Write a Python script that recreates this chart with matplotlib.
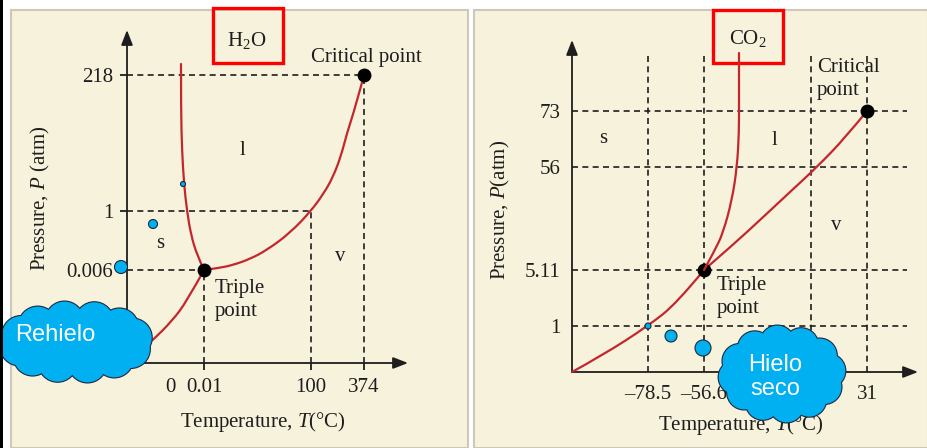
import numpy as np
import matplotlib
matplotlib.use("Agg")
import matplotlib.pyplot as plt
from matplotlib.patches import Rectangle, Circle, Ellipse, PathPatch
from matplotlib.path import Path

plt.rcParams['font.family'] = ['Liberation Serif', 'DejaVu Serif']
plt.rcParams['mathtext.fontset'] = 'custom'
plt.rcParams['mathtext.rm'] = 'Liberation Serif'
plt.rcParams['mathtext.it'] = 'Liberation Serif:italic'

# ---------------- data (schematic diagram units, origin at the axes corner) -------------
h2o_T_labels = ["0.01", "100", "374"]
h2o_T_pos = [77, 184, 237]
h2o_T_zero_label = "0"
h2o_T_zero_pos = 43
h2o_P_labels = ["0.006", "1", "218"]
h2o_P_pos = [93, 152, 288]

h2o_fusion_x = [77, 70, 64, 60, 57, 55, 54, 54]
h2o_fusion_y = [93, 108, 128, 152, 179, 213, 253, 299]
h2o_vap_x = [77, 92, 106, 123, 140, 163, 184, 197, 206, 214, 220, 229, 237]
h2o_vap_y = [93, 95, 98, 104, 113, 130, 152, 170, 186, 207, 230, 258, 288]
h2o_sub_x = [0, 25, 45, 60, 77]
h2o_sub_y = [0, 22, 42, 62, 93]
h2o_triple = (77, 93)
h2o_critical = (237, 288)
h2o_dots_x = [56, 26, -6]
h2o_dots_y = [179, 139, 96]
h2o_dots_r = [2.5, 4.5, 6.5]

co2_T_labels = ["\u201378.5", "\u201356.6", "31"]
co2_T_pos = [76, 132, 295]
co2_T_grid = [76, 132, 239, 295]
co2_P_labels = ["1", "5.11", "56", "73"]
co2_P_pos = [46, 102, 205, 261]

co2_fusion_x = [132, 143, 151, 160, 165, 167, 167, 167]
co2_fusion_y = [102, 122, 139, 172, 205, 239, 272, 319]
co2_vap_x = [132, 163, 188, 218, 245, 273, 295]
co2_vap_y = [102, 129, 152, 180, 205, 234, 261]
co2_sub_x = [0, 31, 76, 105, 132]
co2_sub_y = [0, 17, 46, 69, 102]
co2_triple = (132, 102)
co2_critical = (295, 261)
co2_dots_x = [76, 99, 131]
co2_dots_y = [46, 36, 24]
co2_dots_r = [3, 6, 8]

# ---------------- styles -------------
W, H = 928, 448
BEIGE = '#F7F2DC'
BORDER = '#CEC8BA'
INK = '#1E1E1E'
RED = '#C4262E'
BLUE = '#00B0F0'
FS = 15

fig = plt.figure(figsize=(W / 100, H / 100), dpi=100, facecolor='white')
fig.patches.append(Rectangle((0, 0), 3 / W, 1, transform=fig.transFigure,
                             facecolor='black', edgecolor='none'))


def panel_axes(x0, x1, y0, y1, ox, oy):
    ax = fig.add_axes([x0 / W, 1 - y1 / H, (x1 - x0) / W, (y1 - y0) / H])
    ax.set_xlim(x0 - ox, x1 - ox)
    ax.set_ylim(oy - y1, oy - y0)
    ax.set_facecolor(BEIGE)
    ax.add_patch(Rectangle((0, 0), 1, 1, transform=ax.transAxes, facecolor='none',
                           edgecolor=BORDER, lw=1.5, clip_on=False, zorder=0.5))
    for s in ['top', 'right']:
        ax.spines[s].set_visible(False)
    ax.spines['left'].set_position(('data', 0))
    ax.spines['bottom'].set_position(('data', 0))
    for s in ['left', 'bottom']:
        ax.spines[s].set_color(INK)
        ax.spines[s].set_linewidth(1.3)
    ax.xaxis.set_ticks_position('bottom')
    ax.yaxis.set_ticks_position('left')
    return ax


def arrows(ax, xtip, ytip):
    ax.spines['left'].set_bounds(0, ytip - 6)
    ax.spines['bottom'].set_bounds(0, xtip - 6)
    kw = dict(arrowstyle='-|>,head_length=0.9,head_width=0.35', color=INK, lw=1.3,
              shrinkA=0, shrinkB=0)
    ax.annotate('', xy=(0, ytip), xytext=(0, ytip - 12), arrowprops=kw)
    ax.annotate('', xy=(xtip, 0), xytext=(xtip - 12, 0), arrowprops=kw)


def dashed(ax, xs, ys):
    ax.plot(xs, ys, color=INK, lw=1.2, ls=(0, (3.6, 2.6)), zorder=2)


def smooth_curve(ax, xs, ys, zorder=3):
    """Quadratic B-spline through the given points used as control points (ends exact)."""
    pts = np.c_[xs, ys].astype(float)
    verts = [pts[0]]
    codes = [Path.MOVETO]
    n = len(pts)
    for i in range(1, n - 1):
        end = pts[n - 1] if i == n - 2 else (pts[i] + pts[i + 1]) / 2
        verts += [pts[i], end]
        codes += [Path.CURVE3, Path.CURVE3]
    if n == 2:
        verts.append(pts[1])
        codes.append(Path.LINETO)
    ax.add_patch(PathPatch(Path(verts, codes), facecolor='none', edgecolor=RED, lw=1.6,
                           zorder=zorder, capstyle='round'))


def cloud(ax, cx, cy, rx, ry, r, n, phase=0.0):
    ang = np.linspace(0, 2 * np.pi, n, endpoint=False) + phase
    centers = np.c_[cx + (rx - r * 0.85) * np.cos(ang), cy + (ry - r * 0.85) * np.sin(ang)]
    for z, ec, lw in [(10, '#202840', 1.6), (11, 'none', 0)]:
        for c in centers:
            ax.add_patch(Circle(c, r, facecolor=BLUE, edgecolor=ec, lw=lw,
                                zorder=z, clip_on=False))
        ax.add_patch(Ellipse((cx, cy), 2 * (rx - r * 0.7), 2 * (ry - r * 0.7),
                             facecolor=BLUE, edgecolor=ec, lw=lw, zorder=z, clip_on=False))


def blue_dots(ax, xs, ys, rs):
    for x, y, r in zip(xs, ys, rs):
        ax.add_patch(Circle((x, y), r, facecolor=BLUE, edgecolor='#1a2a3a', lw=0.8,
                            zorder=5, clip_on=False))


# ======================= H2O panel =======================
ax1 = panel_axes(11, 468, 10, 448, 127, 363)
arrows(ax1, 281, 333)
ax1.set_xticks(h2o_T_pos, labels=h2o_T_labels)
ax1.set_xticks([h2o_T_zero_pos], labels=[h2o_T_zero_label], minor=True)
ax1.set_yticks(h2o_P_pos, labels=h2o_P_labels)
ax1.tick_params(axis='both', which='major', direction='out', length=5, width=1.3,
                color=INK, labelsize=FS, labelcolor=INK)
ax1.tick_params(axis='x', which='major', pad=6)
ax1.tick_params(axis='y', which='major', pad=5)
ax1.tick_params(axis='x', which='minor', length=0, pad=11, labelsize=FS, labelcolor=INK)

for xp, yp in zip(h2o_T_pos, h2o_P_pos):
    dashed(ax1, [0, xp], [yp, yp])
    dashed(ax1, [xp, xp], [0, yp])

smooth_curve(ax1, h2o_fusion_x, h2o_fusion_y)
smooth_curve(ax1, h2o_vap_x, h2o_vap_y)
smooth_curve(ax1, h2o_sub_x, h2o_sub_y)
ax1.plot(*zip(h2o_triple, h2o_critical), 'o', color='black', ms=9, zorder=4)
blue_dots(ax1, h2o_dots_x, h2o_dots_y, h2o_dots_r)

ax1.text(239, 306, "Critical point", fontsize=FS, ha='center', va='center', color=INK)
ax1.text(88, 63, "Triple\npoint", fontsize=FS, ha='left', va='center', color=INK,
         linespacing=1.25)
ax1.text(116, 213, "l", fontsize=FS, ha='center', va='center', color=INK)
ax1.text(33, 120, "s", fontsize=FS, ha='center', va='center', color=INK)
ax1.text(213, 107, "v", fontsize=FS, ha='center', va='center', color=INK)

ax1.add_patch(Rectangle((86, 300), 70, 55, facecolor='none', edgecolor='#FF0000', lw=2.4,
                        zorder=6, clip_on=False))
ax1.text(120, 323, "H$_2$O", fontsize=FS, ha='center', va='center', color=INK)

ax1.set_xlabel("Temperature, $\\mathit{T}$(°C)", fontsize=FS, color=INK)
ax1.xaxis.set_label_coords(136, -59, transform=ax1.transData)
ax1.set_ylabel("Pressure, $\\mathit{P}$ (atm)", fontsize=FS, color=INK)
ax1.yaxis.set_label_coords(-87, 165, transform=ax1.transData)
for lab in (ax1.xaxis.label, ax1.yaxis.label):
    lab.set_va('center')
    lab.set_ha('center')

cloud(ax1, -51, 21, 74, 38, 19, 12, phase=0.2)
ax1.text(-72, 28, "Rehielo", fontsize=17, family='Liberation Sans', color='white',
         ha='center', va='center', zorder=12)

# ======================= CO2 panel =======================
ax2 = panel_axes(474, 928, 10, 448, 572, 372)
arrows(ax2, 346, 332)
ax2.set_xticks(co2_T_pos, labels=co2_T_labels)
ax2.set_yticks(co2_P_pos, labels=co2_P_labels)
ax2.tick_params(axis='both', which='major', length=0, labelsize=FS, labelcolor=INK)
ax2.tick_params(axis='x', pad=9)
ax2.tick_params(axis='y', pad=8)

for yp in co2_P_pos:
    dashed(ax2, [0, 335], [yp, yp])
for xp in co2_T_grid:
    dashed(ax2, [xp, xp], [0, 320])

smooth_curve(ax2, co2_fusion_x, co2_fusion_y, zorder=7)
smooth_curve(ax2, co2_vap_x, co2_vap_y)
smooth_curve(ax2, co2_sub_x, co2_sub_y)
ax2.plot(*zip(co2_triple, co2_critical), 'o', color='black', ms=9, zorder=4)
blue_dots(ax2, co2_dots_x, co2_dots_y, co2_dots_r)

ax2.text(245, 293, "Critical\npoint", fontsize=FS, ha='left', va='center', color=INK,
         linespacing=1.25)
ax2.text(145, 75, "Triple\npoint", fontsize=FS, ha='left', va='center', color=INK,
         linespacing=1.25)
ax2.text(31, 234, "s", fontsize=FS, ha='center', va='center', color=INK)
ax2.text(203, 232, "l", fontsize=FS, ha='center', va='center', color=INK)
ax2.text(264, 147, "v", fontsize=FS, ha='center', va='center', color=INK)

ax2.add_patch(Rectangle((141, 309), 70, 53, facecolor='none', edgecolor='#FF0000', lw=2.4,
                        zorder=6, clip_on=False))
ax2.text(176, 334, "CO$_2$", fontsize=FS, ha='center', va='center', color=INK)

ax2.set_xlabel("Temperature, $\\mathit{T}$(°C)", fontsize=FS, color=INK)
ax2.xaxis.set_label_coords(169, -53, transform=ax2.transData)
ax2.set_ylabel("Pressure, $\\mathit{P}$(atm)", fontsize=FS, color=INK)
ax2.yaxis.set_label_coords(-72, 162, transform=ax2.transData)
for lab in (ax2.xaxis.label, ax2.yaxis.label):
    lab.set_va('center')
    lab.set_ha('center')

cloud(ax2, 210, -2, 61, 46, 17, 12, phase=0.1)
ax2.text(203, -5, "Hielo\nseco", fontsize=17, family='Liberation Sans', color='white',
         ha='center', va='center', zorder=12, linespacing=1.15)

fig.savefig("out.png", dpi=100, facecolor='white')
